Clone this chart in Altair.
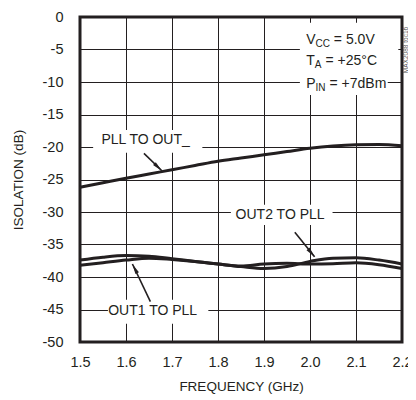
import altair as alt
import pandas as pd

FONT = "Liberation Sans, Arial, sans-serif"
INK = "#231f20"

# ---- data ----
freq = [1.5, 1.55, 1.6, 1.65, 1.7, 1.75, 1.8, 1.85, 1.9, 1.95, 2.0, 2.05, 2.1, 2.15, 2.2]
pll_to_out = [-26.2, -25.5, -24.8, -24.15, -23.5, -22.85, -22.2, -21.7, -21.2, -20.7,
              -20.2, -19.85, -19.65, -19.6, -19.8]
out1_to_pll = [-38.2, -37.8, -37.4, -37.1, -37.3, -37.6, -38.0, -38.3, -38.0, -37.9,
               -38.0, -37.95, -37.8, -38.1, -38.7]
out2_to_pll = [-37.4, -36.95, -36.7, -36.8, -37.2, -37.6, -38.0, -38.4, -38.7, -38.4,
               -37.6, -37.1, -37.05, -37.4, -38.0]
series_names = ["PLL TO OUT_", "OUT1 TO PLL", "OUT2 TO PLL"]

x_ticks = [1.5, 1.6, 1.7, 1.8, 1.9, 2.0, 2.1, 2.2]
y_ticks = [0, -5, -10, -15, -20, -25, -30, -35, -40, -45, -50]

# annotation labels (text, x, y)
label_text = ["PLL TO OUT_", "OUT2 TO PLL", "OUT1 TO PLL"]
label_x = [1.6426, 1.935, 1.658]
label_y = [-18.9, -30.45, -45.3]

# white boxes behind labels (x, x2, y, y2)
box_x = [1.5286, 1.828, 1.5607, 1.978, 1.978]
box_x2 = [1.766, 2.049, 1.779, 2.192, 2.169]
box_y = [-17.4, -28.9, -43.5, -0.9, -8.15]
box_y2 = [-20.9, -32.0, -47.2, -8.15, -12.0]

# arrows: tail (x, y) -> tip (x2, y2); head centre (hx, hy) and direction angle
arrow_x = [1.639, 1.967, 1.653]
arrow_y = [-20.97, -33.1, -43.8]
arrow_x2 = [1.678, 2.010, 1.614]
arrow_y2 = [-23.65, -36.9, -38.0]
head_x = [1.670, 2.003, 1.619]
head_y = [-23.12, -36.3, -38.7]
head_angle = [134, 141, 332]

# conditions block
cond_main = ["V", "T", "P"]
cond_sub = ["CC", "A", "IN"]
cond_rest = ["= 5.0V", "= +25°C", "= +7dBm"]
cond_x = 1.9919
cond_y = [-4.08, -7.46, -10.85]
sub_dx = [9.3, 8.6, 9.3]
rest_dx = [27.6, 19.2, 23.2]

# ---- tables ----
lines_df = pd.DataFrame({
    "freq": freq * 3,
    "iso": pll_to_out + out1_to_pll + out2_to_pll,
    "series": [series_names[0]] * len(freq) + [series_names[1]] * len(freq) + [series_names[2]] * len(freq),
})
labels_df = pd.DataFrame({"text": label_text, "x": label_x, "y": label_y})
boxes_df = pd.DataFrame({"x": box_x, "x2": box_x2, "y": box_y, "y2": box_y2})
arrows_df = pd.DataFrame({"x": arrow_x, "y": arrow_y, "x2": arrow_x2, "y2": arrow_y2,
                          "hx": head_x, "hy": head_y, "ang": head_angle})

PLOT_W = 322
PLOT_H = 325

xs = alt.Scale(domain=[1.5, 2.2], nice=False, zero=False)
ys = alt.Scale(domain=[-50, 0], nice=False, zero=False)

x_axis = alt.Axis(values=x_ticks, labelExpr="format(datum.value, '.1f')", ticks=False, domain=False,
                  grid=True, gridColor=INK, gridWidth=1, labelFlush=False, labelOverlap=False,
                  labelFont=FONT, labelFontSize=14.5, labelColor=INK, labelPadding=13,
                  title="FREQUENCY (GHz)", titleFont=FONT, titleFontSize=13.5, titleFontWeight="normal",
                  titleColor=INK, titlePadding=11)
y_axis = alt.Axis(values=y_ticks, labelExpr="toString(datum.value)", ticks=False, domain=False,
                  grid=True, gridColor=INK, gridWidth=1, labelFlush=False, labelOverlap=False,
                  labelFont=FONT, labelFontSize=14.5, labelColor=INK, labelPadding=17,
                  title="ISOLATION (dB)", titleFont=FONT, titleFontSize=13.5, titleFontWeight="normal",
                  titleColor=INK, titlePadding=17)


def X(f):
    return alt.X(f, scale=xs, axis=x_axis, title="FREQUENCY (GHz)")


def Y(f):
    return alt.Y(f, scale=ys, axis=y_axis, title="ISOLATION (dB)")


boxes = alt.Chart(boxes_df).mark_rect(fill="white", strokeWidth=0).encode(
    x=X("x:Q"), x2="x2:Q", y=Y("y:Q"), y2="y2:Q")

lines = alt.Chart(lines_df).mark_line(color=INK, strokeWidth=3, interpolate="monotone").encode(
    x=X("freq:Q"), y=Y("iso:Q"), detail="series:N")

rules = alt.Chart(arrows_df).mark_rule(color=INK, strokeWidth=1.6).encode(
    x=X("x:Q"), y=Y("y:Q"), x2="x2:Q", y2="y2:Q")

heads = alt.Chart(arrows_df).mark_point(shape="M0,-1L0.38,1L-0.38,1Z", filled=True, color=INK,
                                         opacity=1, size=110, strokeWidth=0).encode(
    x=X("hx:Q"), y=Y("hy:Q"), angle=alt.Angle("ang:Q", scale=None))

labels = alt.Chart(labels_df).mark_text(font=FONT, fontSize=14, color=INK, align="center",
                                        baseline="middle").encode(
    x=X("x:Q"), y=Y("y:Q"), text="text:N")

layers = [boxes, lines, rules, heads, labels]

for i in range(3):
    row = pd.DataFrame({"x": [cond_x], "y": [cond_y[i]], "m": [cond_main[i]],
                        "s": [cond_sub[i]], "r": [cond_rest[i]]})
    base = alt.Chart(row)
    layers.append(base.mark_text(font=FONT, fontSize=14, color=INK, align="left",
                                 baseline="alphabetic").encode(x=X("x:Q"), y=Y("y:Q"), text="m:N"))
    layers.append(base.mark_text(font=FONT, fontSize=10, color=INK, align="left",
                                 baseline="alphabetic", dx=sub_dx[i], dy=3).encode(
        x=X("x:Q"), y=Y("y:Q"), text="s:N"))
    layers.append(base.mark_text(font=FONT, fontSize=14, color=INK, align="left",
                                 baseline="alphabetic", dx=rest_dx[i]).encode(
        x=X("x:Q"), y=Y("y:Q"), text="r:N"))

tag = alt.Chart(pd.DataFrame({"t": ["MAX2088 toc16"]})).mark_text(
    font=FONT, fontSize=6.5, color="#555555", angle=270, align="center", baseline="middle").encode(
    x=alt.value(PLOT_W + 3.5), y=alt.value(33), text="t:N")
layers.append(tag)

chart = alt.layer(*layers).properties(
    width=PLOT_W, height=PLOT_H,
    autosize=alt.AutoSizeParams(type="none"),
    padding={"left": 72, "top": 9, "right": 6, "bottom": 52},
    background="white",
).configure_view(stroke=INK, strokeWidth=3)

chart.save("out.html", embed_options={"renderer": "svg", "actions": False})
